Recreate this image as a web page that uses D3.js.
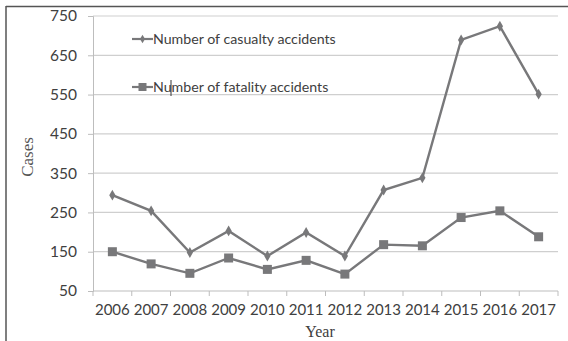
<!DOCTYPE html>
<html>
<head>
<meta charset="utf-8">
<script src="https://cdn.jsdelivr.net/npm/d3@7"></script>
<style>
  html, body { margin: 0; padding: 0; background: #fff; }
  svg { display: block; }
</style>
</head>
<body>
<svg id="chart" width="568" height="341"></svg>
<script>
// Accident counts by year
const years = ["2006","2007","2008","2009","2010","2011","2012","2013","2014","2015","2016","2017"];
const casualty = [294, 254, 148, 203, 139, 199, 139, 307, 338, 689, 724, 551];
const fatality = [150, 119, 95, 134, 105, 128, 93, 168, 165, 237, 254, 188];
const yTicks = [50, 150, 250, 350, 450, 550, 650, 750];
const seriesNames = ["Number of casualty accidents", "Number of fatality accidents"];

const svg = d3.select("#chart");
const plot = { left: 93, right: 558, top: 16, bottom: 291 };
const lineColor = "#78787a";
const textColor = "#404040";
const labelFont = "Lato, 'Open Sans', sans-serif";

// Frame: left and top edges
svg.append("line").attr("x1", 6).attr("x2", 6).attr("y1", 6).attr("y2", 341)
  .attr("stroke", "#555").attr("stroke-width", 1.5);
svg.append("line").attr("x1", 6).attr("x2", 568).attr("y1", 6.5).attr("y2", 6.5)
  .attr("stroke", "#555").attr("stroke-width", 1.5);

const x = d3.scaleBand().domain(years).range([plot.left, plot.right]);
const y = d3.scaleLinear().domain([50, 750]).range([plot.bottom, plot.top]);

// Horizontal gridlines
svg.append("g").selectAll("line").data(yTicks.filter(d => d !== 50)).join("line")
  .attr("x1", plot.left).attr("x2", plot.right)
  .attr("y1", d => y(d)).attr("y2", d => y(d))
  .attr("stroke", "#cfcfcf").attr("stroke-width", 1.2);

// Y axis
const yAxis = svg.append("g").attr("transform", `translate(${plot.left},0)`)
  .call(d3.axisLeft(y).tickValues(yTicks).tickSize(5).tickPadding(11));
yAxis.select(".domain").attr("stroke", "#bdbdbd");
yAxis.selectAll(".tick line").attr("stroke", "#bdbdbd");
yAxis.selectAll("text").attr("font-family", labelFont).attr("font-size", 15.5)
  .attr("fill", textColor);

// X axis with ticks on category boundaries
const xAxisG = svg.append("g").attr("transform", `translate(0,${plot.bottom})`);
xAxisG.append("line").attr("x1", plot.left).attr("x2", plot.right).attr("y1", 0).attr("y2", 0)
  .attr("stroke", "#bdbdbd");
xAxisG.selectAll("line.tk").data(years.concat(["end"])).join("line").attr("class", "tk")
  .attr("x1", (d, i) => i < years.length ? x(d) : plot.right)
  .attr("x2", (d, i) => i < years.length ? x(d) : plot.right)
  .attr("y1", 0).attr("y2", 5).attr("stroke", "#bdbdbd");
xAxisG.selectAll("text").data(years).join("text")
  .attr("x", d => x(d) + x.bandwidth() / 2).attr("y", 24)
  .attr("text-anchor", "middle")
  .attr("font-family", labelFont).attr("font-size", 15).attr("fill", textColor)
  .text(d => d);

// Axis titles
svg.append("text").attr("x", 320).attr("y", 337).attr("text-anchor", "middle")
  .attr("font-family", "'Liberation Serif', 'DejaVu Serif', serif").attr("font-size", 16)
  .attr("fill", textColor).text("Year");
svg.append("text").attr("transform", "translate(33,157) rotate(-90)")
  .attr("text-anchor", "middle")
  .attr("font-family", "'Liberation Serif', 'DejaVu Serif', serif").attr("font-size", 17)
  .attr("fill", "#555").text("Cases");

const cx = d => x(d) + x.bandwidth() / 2;
const line = d3.line().x(d => cx(d.year)).y(d => y(d.v));

const casualtyData = years.map((yr, i) => ({ year: yr, v: casualty[i] }));
const fatalityData = years.map((yr, i) => ({ year: yr, v: fatality[i] }));

// Casualty series: line with small diamond markers
svg.append("path").datum(casualtyData).attr("d", line)
  .attr("fill", "none").attr("stroke", lineColor).attr("stroke-width", 2.4);
svg.append("g").selectAll("path").data(casualtyData).join("path")
  .attr("d", d3.symbol(d3.symbolDiamond, 34))
  .attr("transform", d => `translate(${cx(d.year)},${y(d.v)})`)
  .attr("fill", lineColor);

// Fatality series: line with square markers
svg.append("path").datum(fatalityData).attr("d", line)
  .attr("fill", "none").attr("stroke", lineColor).attr("stroke-width", 2.4);
svg.append("g").selectAll("rect").data(fatalityData).join("rect")
  .attr("x", d => cx(d.year) - 4.5).attr("y", d => y(d.v) - 4.5)
  .attr("width", 9).attr("height", 9).attr("fill", lineColor);

// Legend
const legend = svg.append("g");
const legendRows = [
  { name: seriesNames[0], yPos: 39, marker: "diamond" },
  { name: seriesNames[1], yPos: 87, marker: "square" }
];
legendRows.forEach(r => {
  legend.append("line").attr("x1", 132).attr("x2", 153).attr("y1", r.yPos).attr("y2", r.yPos)
    .attr("stroke", lineColor).attr("stroke-width", 2.2);
  if (r.marker === "diamond") {
    legend.append("path").attr("d", d3.symbol(d3.symbolDiamond, 22))
      .attr("transform", `translate(142.5,${r.yPos})`).attr("fill", lineColor);
  } else {
    legend.append("rect").attr("x", 138.5).attr("y", r.yPos - 4).attr("width", 8).attr("height", 8)
      .attr("fill", lineColor);
  }
  legend.append("text").attr("x", 153).attr("y", r.yPos + 5)
    .attr("font-family", labelFont).attr("font-size", 14.2).attr("fill", textColor)
    .text(r.name);
});
// text cursor mark inside the second legend label
legend.append("line").attr("x1", 171).attr("x2", 171).attr("y1", 80).attr("y2", 96)
  .attr("stroke", "#333").attr("stroke-width", 1);
</script>
</body>
</html>
